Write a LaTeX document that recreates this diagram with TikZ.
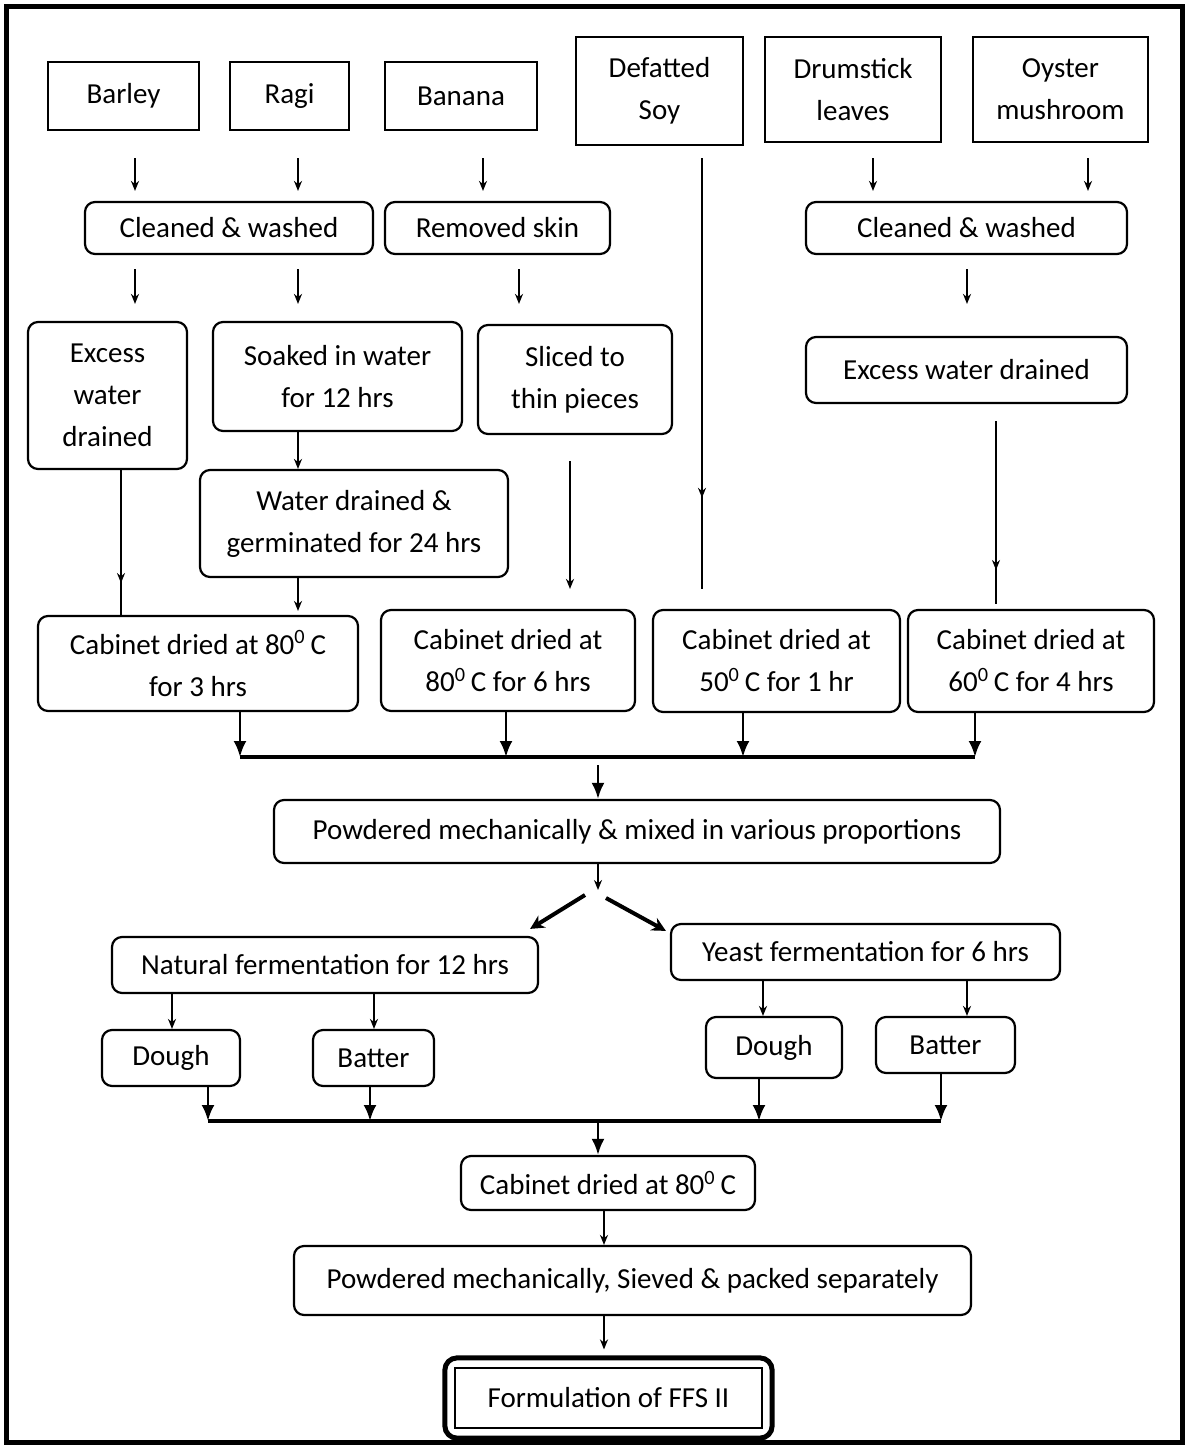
\documentclass[tikz,border=0pt]{standalone}
\usepackage{fontspec}
\setmainfont{Carlito}
\usetikzlibrary{arrows.meta,decorations.markings,fit}
\newcommand{\dg}{\textsuperscript{0}\,}
\begin{document}
\begin{tikzpicture}[x=0.5pt,y=-0.5pt,
  every node/.style={font=\fontsize{14.5}{21}\selectfont, align=center, inner sep=0pt},
  sq/.style={draw, line width=1.1pt},
  rb/.style={draw, line width=1.1pt, rounded corners=5pt},
  arr/.style={line width=1.2pt, -{Stealth[length=5pt,width=4pt]}},
  jarr/.style={line width=1.4pt, -{Latex[length=8pt,width=6.5pt]}},
  jline/.style={line width=1.9pt},
  fan/.style={line width=2pt, -{Stealth[length=7pt,width=7pt]}},
  midarr/.style={line width=1.2pt, postaction={decorate},
    decoration={markings, mark=at position #1 with {\arrow{Stealth[length=5pt,width=4pt]}}}}
]
\useasboundingbox (0,0) rectangle (1190,1448);
\draw[line width=2.5pt] (6,6) rectangle (1182,1442);

% top row
\node[sq, minimum width=75.5pt, minimum height=34pt] (barley) at (123.5,96) {Barley};
\node[sq, minimum width=59.5pt, minimum height=34pt] (ragi) at (289.5,96) {Ragi};
\node[sq, minimum width=76pt, minimum height=34pt] (banana) at (461,96) {Banana};
\node[sq, minimum width=83.5pt, minimum height=54pt] (soy) at (659.5,91) {Defatted\\Soy};
\node[sq, minimum width=88pt, minimum height=52.5pt] (drum) at (853,89.5) {Drumstick\\leaves};
\node[sq, minimum width=87.5pt, minimum height=52.5pt] (oyster) at (1060.5,89.5) {Oyster\\mushroom};

% second row
\node[rb, minimum width=144pt, minimum height=26pt] (clean1) at (229,228) {Cleaned \& washed};
\node[rb, minimum width=112.5pt, minimum height=26pt] (skin) at (497.5,228) {Removed skin};
\node[rb, minimum width=160.5pt, minimum height=26pt] (clean2) at (966.5,228) {Cleaned \& washed};

% third row
\node[rb, minimum width=79.5pt, minimum height=73.5pt] (excess1) at (107.5,395.5) {Excess\\water\\drained};
\node[rb, minimum width=124.5pt, minimum height=54.5pt] (soak) at (337.5,376.5) {Soaked in water\\for 12 hrs};
\node[rb, minimum width=97pt, minimum height=54.5pt] (slice) at (575,379.5) {Sliced to\\thin pieces};
\node[rb, minimum width=160.5pt, minimum height=33pt] (excess2) at (966.5,370) {Excess water drained};
\node[rb, minimum width=154pt, minimum height=53.5pt] (germ) at (354,523.5) {Water drained \&\\germinated for 24 hrs};

% cabinet row
\node[rb, minimum width=160pt, minimum height=47.5pt] (cab1) at (198,663.5) {Cabinet dried at 80\dg C\\for 3 hrs};
\node[rb, minimum width=127pt, minimum height=50.5pt] (cab2) at (508,660.5) {Cabinet dried at\\80\dg C for 6 hrs};
\node[rb, minimum width=123.5pt, minimum height=51pt] (cab3) at (776.5,661) {Cabinet dried at\\50\dg C for 1 hr};
\node[rb, minimum width=123pt, minimum height=51pt] (cab4) at (1031,661) {Cabinet dried at\\60\dg C for 4 hrs};

\node[rb, minimum width=363pt, minimum height=31.5pt] (mix) at (637,831.5) {Powdered mechanically \& mixed in various proportions};

\node[rb, minimum width=213pt, minimum height=28pt] (nat) at (325,965) {Natural fermentation for 12 hrs};
\node[rb, minimum width=194.5pt, minimum height=28pt] (yeast) at (865.5,952) {Yeast fermentation for 6 hrs};
\node[rb, minimum width=69pt, minimum height=28pt] (dough1) at (171,1058) {Dough};
\node[rb, minimum width=60.5pt, minimum height=28pt] (batter1) at (373.5,1058) {Batter};
\node[rb, minimum width=68pt, minimum height=30.5pt] (dough2) at (774,1047.5) {Dough};
\node[rb, minimum width=69.5pt, minimum height=28pt] (batter2) at (945.5,1045) {Batter};

\node[rb, minimum width=147pt, minimum height=27pt] (cab5) at (608,1183) {Cabinet dried at 80\dg C};
\node[rb, minimum width=338.5pt, minimum height=34.5pt] (pack) at (632.5,1280.5) {Powdered mechanically, Sieved \& packed separately};
\node[sq, minimum width=153.5pt, minimum height=30pt] (final) at (608.5,1398) {Formulation of FFS II};
\node[fit=(final), inner sep=4.5pt, draw, line width=2.5pt, rounded corners=6pt] (finalframe) {};

% arrows: top row to second row
\draw[arr, shorten <=13.5pt, shorten >=5pt] (barley.south -| 135,0) -- (clean1.north -| 135,0);
\draw[arr, shorten <=13.5pt, shorten >=5pt] (ragi.south -| 298,0) -- (clean1.north -| 298,0);
\draw[arr, shorten <=13.5pt, shorten >=5pt] (banana.south -| 483,0) -- (skin.north -| 483,0);
\draw[arr, shorten <=7.5pt, shorten >=5pt] (drum.south -| 873,0) -- (clean2.north -| 873,0);
\draw[arr, shorten <=7.5pt, shorten >=5pt] (oyster.south -| 1088,0) -- (clean2.north -| 1088,0);

% second row to third row
\draw[arr, shorten <=7pt, shorten >=8.5pt] (clean1.south -| 135,0) -- (excess1.north -| 135,0);
\draw[arr, shorten <=7pt, shorten >=8.5pt] (clean1.south -| 298,0) -- (soak.north -| 298,0);
\draw[arr, shorten <=7pt, shorten >=10pt] (skin.south -| 519,0) -- (slice.north -| 519,0);
\draw[arr, shorten <=7pt, shorten >=16pt] (clean2.south -| 967,0) -- (excess2.north -| 967,0);

% to cabinets
\draw[arr] (soak.south -| 298,0) -- (germ.north -| 298,0);
\draw[arr, shorten >=2pt] (germ.south -| 298,0) -- (cab1.north -| 298,0);
\draw[midarr=0.78] (excess1.south -| 121,0) -- (cab1.north -| 121,0);
\draw[arr, shorten <=13pt, shorten >=10pt] (slice.south -| 570,0) -- (cab2.north -| 570,0);
\draw[midarr=0.76, shorten <=6pt, shorten >=10pt] (soy.south -| 702,0) -- (cab3.north -| 702,0);
\draw[midarr=0.81, shorten <=8.5pt, shorten >=2.5pt] (excess2.south -| 996,0) -- (cab4.north -| 996,0);

% junction 1
\coordinate (j1) at (598,757);
\draw[jarr] (cab1.south -| 240,0) -- (j1 -| 240,0);
\draw[jarr] (cab2.south -| 506,0) -- (j1 -| 506,0);
\draw[jarr] (cab3.south -| 743,0) -- (j1 -| 743,0);
\draw[jarr] (cab4.south -| 975,0) -- (j1 -| 975,0);
\draw[jline] (j1 -| 240,0) -- (j1 -| 975,0);
\draw[jarr, shorten <=4pt] (j1) -- (mix.north -| j1);

% split
\coordinate (split) at (598,890);
\draw[arr] (mix.south -| split) -- (split);
\draw[fan] ([shift={(-13,5)}]split) -- ([shift={(-9,-7)}]nat.north east);
\draw[fan] ([shift={(8,8)}]split) -- ([shift={(-4,8)}]yeast.north west);

\draw[arr] (nat.south -| 172,0) -- (dough1.north -| 172,0);
\draw[arr] (nat.south -| 374,0) -- (batter1.north -| 374,0);
\draw[arr] (yeast.south -| 763,0) -- (dough2.north -| 763,0);
\draw[arr] (yeast.south -| 967,0) -- (batter2.north -| 967,0);

% junction 2
\coordinate (j2) at (598,1121);
\draw[jarr] (dough1.south -| 208,0) -- (j2 -| 208,0);
\draw[jarr] (batter1.south -| 370,0) -- (j2 -| 370,0);
\draw[jarr] (dough2.south -| 759,0) -- (j2 -| 759,0);
\draw[jarr] (batter2.south -| 941,0) -- (j2 -| 941,0);
\draw[jline] (j2 -| 208,0) -- (j2 -| 941,0);
\draw[jarr] (j2) -- (cab5.north -| j2);

\draw[arr] (cab5.south -| 604,0) -- (pack.north -| 604,0);
\draw[arr, shorten >=3pt] (pack.south -| 604,0) -- (finalframe.north -| 604,0);
\end{tikzpicture}
\end{document}
